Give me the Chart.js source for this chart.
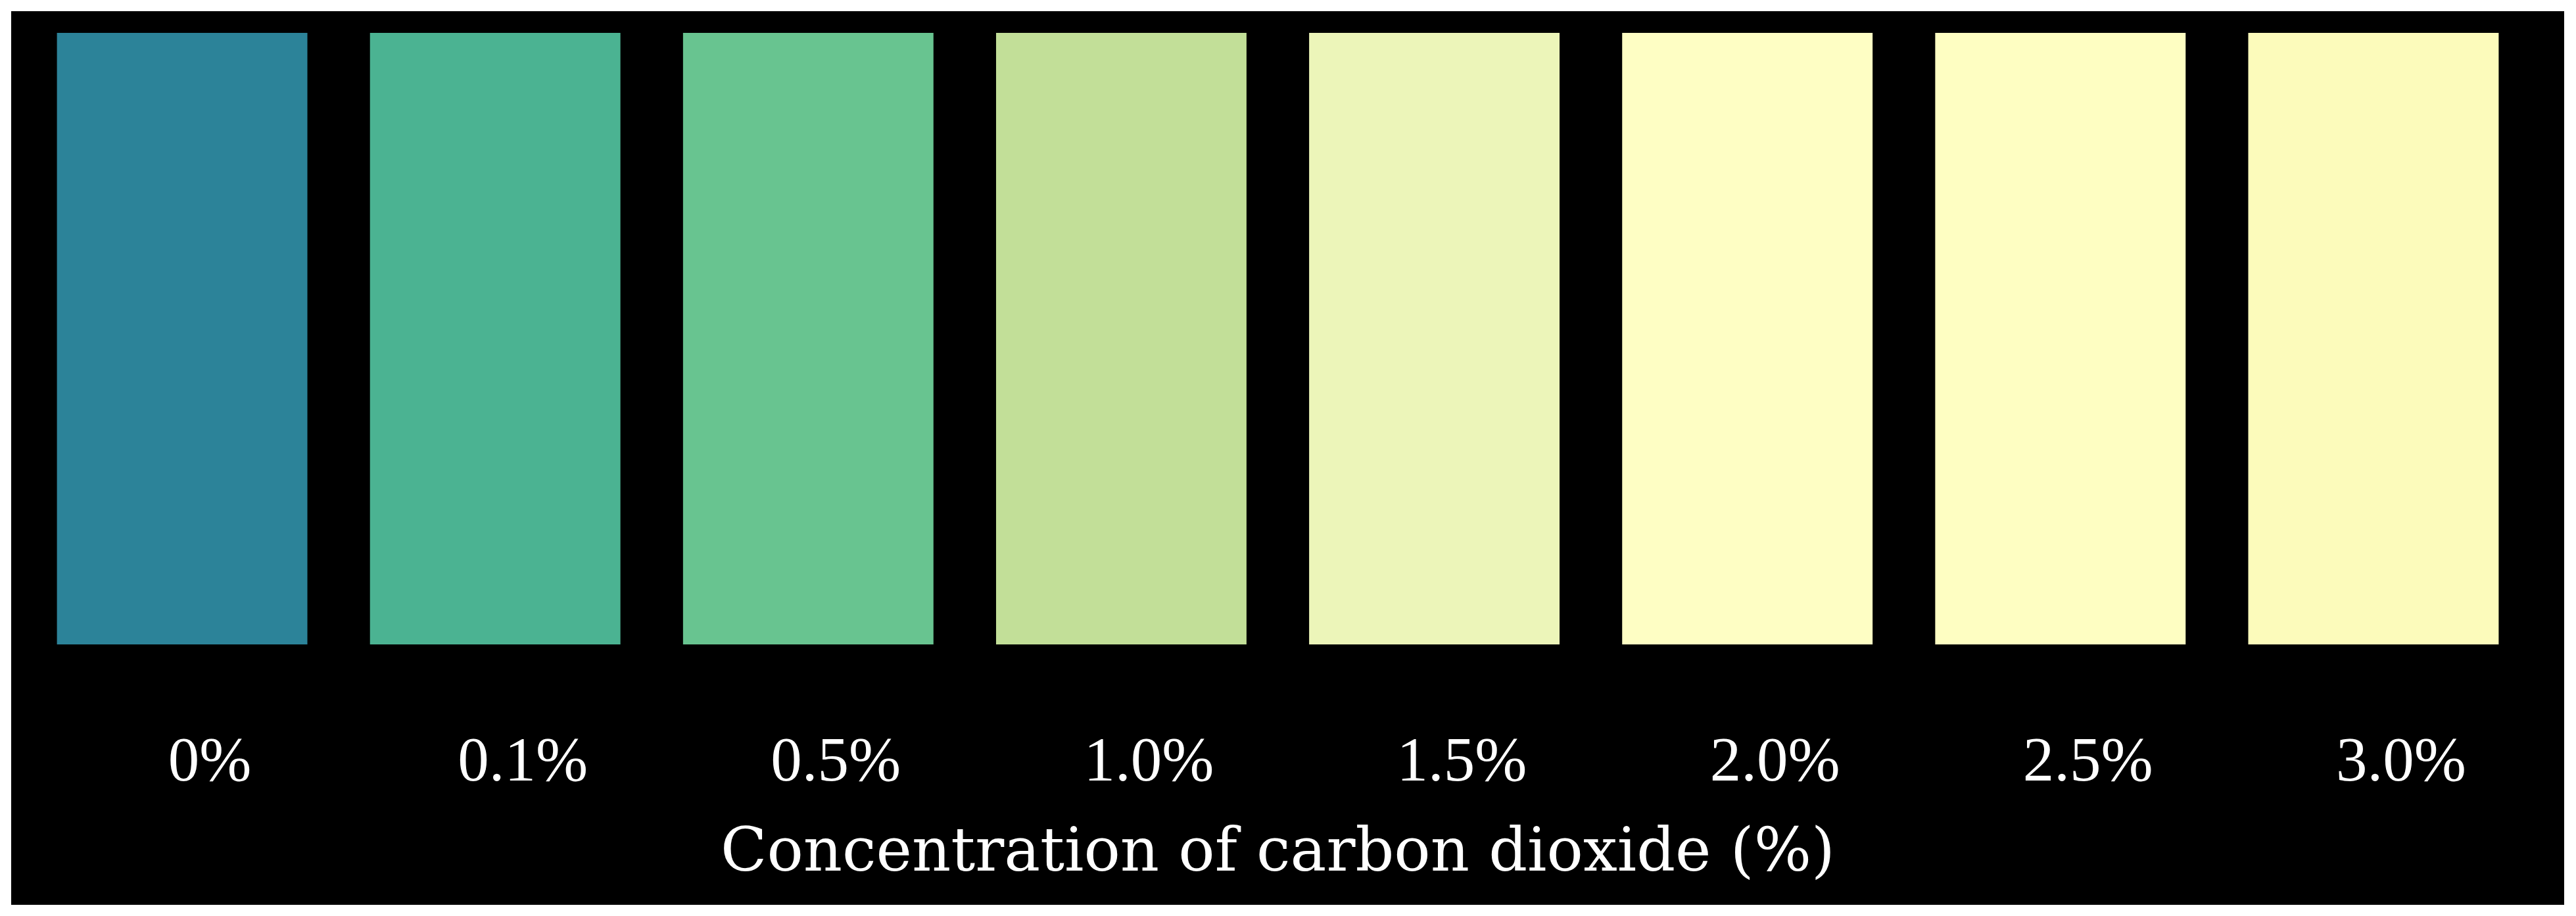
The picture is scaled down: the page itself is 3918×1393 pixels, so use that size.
<!DOCTYPE html>
<html>
<head>
<meta charset="utf-8">
<script src="https://cdn.jsdelivr.net/npm/chart.js@4.4.1/dist/chart.umd.min.js"></script>
<style>
  html, body { margin: 0; padding: 0; background: #ffffff; }
  body { width: 3918px; height: 1393px; position: relative; overflow: hidden; }
  #wrap { position: absolute; left: 17px; top: 17px; width: 3883px; height: 1359px; background: #000000; }
  canvas { display: block; }
</style>
</head>
<body>
<div id="wrap"><canvas id="c" width="3883" height="1359"></canvas></div>
<script>
// Categories: CO2 concentration
const categories = ['0%', '0.1%', '0.5%', '1.0%', '1.5%', '2.0%', '2.5%', '3.0%'];
// Each indicator strip is shown full height
const stripValues = [1, 1, 1, 1, 1, 1, 1, 1];
// Observed strip colours
const stripColors = ['#2c8399', '#4bb392', '#68c490', '#c2df98', '#ecf5b9', '#fefec4', '#fefec2', '#fcfbbb'];
const axisTitle = 'Concentration of carbon dioxide (%)';

new Chart(document.getElementById('c'), {
  type: 'bar',
  data: {
    labels: categories,
    datasets: [{
      data: stripValues,
      backgroundColor: stripColors,
      borderWidth: 0,
      categoryPercentage: 1.0,
      barPercentage: 0.8
    }]
  },
  options: {
    responsive: false,
    devicePixelRatio: 1,
    animation: false,
    layout: { padding: { left: 22, right: 52, top: 33, bottom: 0 } },
    plugins: { legend: { display: false }, tooltip: { enabled: false }, title: { display: false } },
    scales: {
      y: { display: false, min: 0, max: 1 },
      x: {
        grid: { display: false, drawTicks: false },
        border: { display: false },
        ticks: {
          color: '#ffffff',
          font: { family: '"Liberation Serif", "Times New Roman", serif', size: 95 },
          padding: 125,
          labelOffset: 42,
          maxRotation: 0,
          autoSkip: false
        },
        title: {
          display: true,
          text: axisTitle,
          color: '#ffffff',
          font: { family: '"DejaVu Serif", serif', size: 92 },
          padding: { top: -99.2, bottom: 20.8 }
        }
      }
    }
  }
});
</script>
</body>
</html>
